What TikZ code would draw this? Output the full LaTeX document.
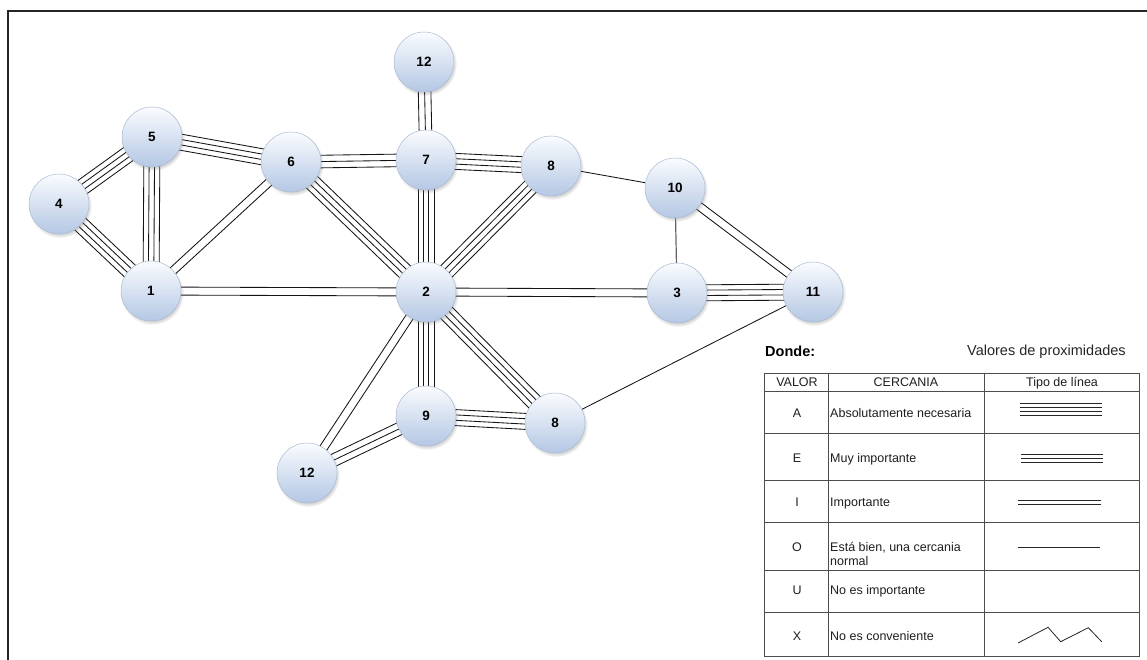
\documentclass[tikz,border=0pt]{standalone}
\usepackage{fontspec}
\setmainfont{Liberation Sans}
\usetikzlibrary{calc,shadows,backgrounds}

\definecolor{discTop}{RGB}{250,252,254}
\definecolor{discBottom}{RGB}{180,199,228}
\definecolor{discRim}{RGB}{170,186,210}

% one strand of a relation, offset sideways from the centre line
\newcommand\strand[3]{\draw[conn] ($(#1)!#3!90:(#2)$) -- ($(#2)!#3!-90:(#1)$);}
% A: absolutely necessary (four strands)
\newcommand\relA[2]{\strand{#1}{#2}{-8pt}\strand{#1}{#2}{-2.7pt}\strand{#1}{#2}{2.7pt}\strand{#1}{#2}{8pt}}
% E: very important (three strands)
\newcommand\relE[2]{\strand{#1}{#2}{-6.3pt}\strand{#1}{#2}{0pt}\strand{#1}{#2}{6.3pt}}
% I: important (two strands)
\newcommand\relI[2]{\strand{#1}{#2}{-4pt}\strand{#1}{#2}{4pt}}
% O: ordinary closeness (one strand)
\newcommand\relO[2]{\draw[conn] (#1) -- (#2);}

\begin{document}
\begin{tikzpicture}[x=1pt,y=-1pt,
  station/.style={circle, minimum size=60pt, inner sep=0pt,
    draw=discRim, line width=0.5pt,
    top color=discTop, bottom color=discBottom,
    circular drop shadow={shadow xshift=1pt, shadow yshift=-2pt, shadow scale=1.06, opacity=0.4},
    font=\bfseries\fontsize{13.5}{15}\selectfont},
  conn/.style={line width=0.85pt, draw=black!92},
  grid/.style={draw=black!70, line width=0.8pt},
  cell/.style={inner sep=0pt, font=\fontsize{12.5}{14}\selectfont, text=black!88},
  sample/.style={line width=0.8pt, draw=black!85},
]
\useasboundingbox (0,0) rectangle (1147,660);
\begin{pgfonlayer}{background}
  \fill[white] (0,0) rectangle (1147,660);
\end{pgfonlayer}

% sheet frame
\draw[line width=1.8pt, black!85] (8,660) -- (8,11) -- (1147,11);

% departments
\node[station] (n4)   at (59,204)  {4};
\node[station] (n5)   at (152,137) {5};
\node[station] (n6)   at (291,162) {6};
\node[station] (n1)   at (151,291) {1};
\node[station] (n12a) at (424,62)  {12};
\node[station] (n7)   at (426,160) {7};
\node[station] (n8a)  at (551,166) {8};
\node[station] (n10)  at (675,188) {10};
\node[station] (n2)   at (426,292) {2};
\node[station] (n3)   at (677,293) {3};
\node[station] (n11)  at (813,292) {11};
\node[station] (n9)   at (426,416) {9};
\node[station] (n8b)  at (555,423) {8};
\node[station] (n12b) at (307,473) {12};

% relationships, drawn beneath the discs
\begin{pgfonlayer}{background}
  \relA{n4}{n5}
  \relA{n4}{n1}
  \relA{n5}{n1}
  \relA{n5}{n6}
  \relA{n6}{n2}
  \relA{n7}{n8a}
  \relA{n7}{n2}
  \relA{n8a}{n2}
  \relA{n3}{n11}
  \relA{n2}{n9}
  \relA{n2}{n8b}
  \relA{n9}{n8b}
  \relE{n6}{n7}
  \relE{n12a}{n7}
  \relE{n12b}{n9}
  \relI{n1}{n6}
  \relI{n1}{n2}
  \relI{n10}{n11}
  \relI{n2}{n3}
  \relI{n2}{n12b}
  \relO{n8a}{n10}
  \draw[line width=1.2pt, draw=black!60] (n10) -- (n3);
  \relO{n11}{n8b}
\end{pgfonlayer}

% key
\node[anchor=base west, inner sep=0pt, font=\bfseries\fontsize{14.5}{16}\selectfont] (where) at (765,356) {Donde:};
\node[anchor=base west, inner sep=0pt, font=\fontsize{14.5}{16}\selectfont, text=black!85] (keytitle) at (967,355) {Valores de proximidades};

\draw[grid] (764,373) rectangle (1139,656);
\foreach \yy in {391,433,480,522,570,612} \draw[grid] (764,\yy) -- (1139,\yy);
\draw[grid] (828,373) -- (828,656);
\draw[grid] (984,373) -- (984,656);

\node[cell, anchor=base] (hval) at (797,386.5) {VALOR};
\node[cell, anchor=base] (hcer) at (906,386.5) {CERCANIA};
\node[cell, anchor=base] (htip) at (1062,386.5) {Tipo de línea};

\node[cell, anchor=base] (va) at (797,417) {A};
\node[cell, anchor=base] (ve) at (797,462) {E};
\node[cell, anchor=base] (vi) at (797,506.5) {I};
\node[cell, anchor=base] (vo) at (797,551) {O};
\node[cell, anchor=base] (vu) at (797,594) {U};
\node[cell, anchor=base] (vx) at (797,640) {X};

\node[cell, anchor=base west] (ca) at (830,417) {Absolutamente necesaria};
\node[cell, anchor=base west] (ce) at (830,462) {Muy importante};
\node[cell, anchor=base west] (ci) at (830,506.5) {Importante};
\node[cell, anchor=base west] (co) at (830,551) {Está bien, una cercania};
\node[cell, anchor=base west] (co2) at (830,565) {normal};
\node[cell, anchor=base west] (cu) at (830,594) {No es importante};
\node[cell, anchor=base west] (cx) at (830,640) {No es conveniente};

% line samples
\foreach \yy in {403.5,407.5,411.5,415.3} \draw[sample] (1020,\yy) -- (1102,\yy);
\foreach \yy in {454,458.3,462.6} \draw[sample] (1021,\yy) -- (1103,\yy);
\foreach \yy in {500,504} \draw[sample] (1018,\yy) -- (1101,\yy);
\draw[sample] (1018,547) -- (1100,547);
\draw[sample, line join=miter] (1018,643) -- (1048,627.3) -- (1060.7,641.7) -- (1088.3,627.7) -- (1101.7,641.7);
\end{tikzpicture}
\end{document}
